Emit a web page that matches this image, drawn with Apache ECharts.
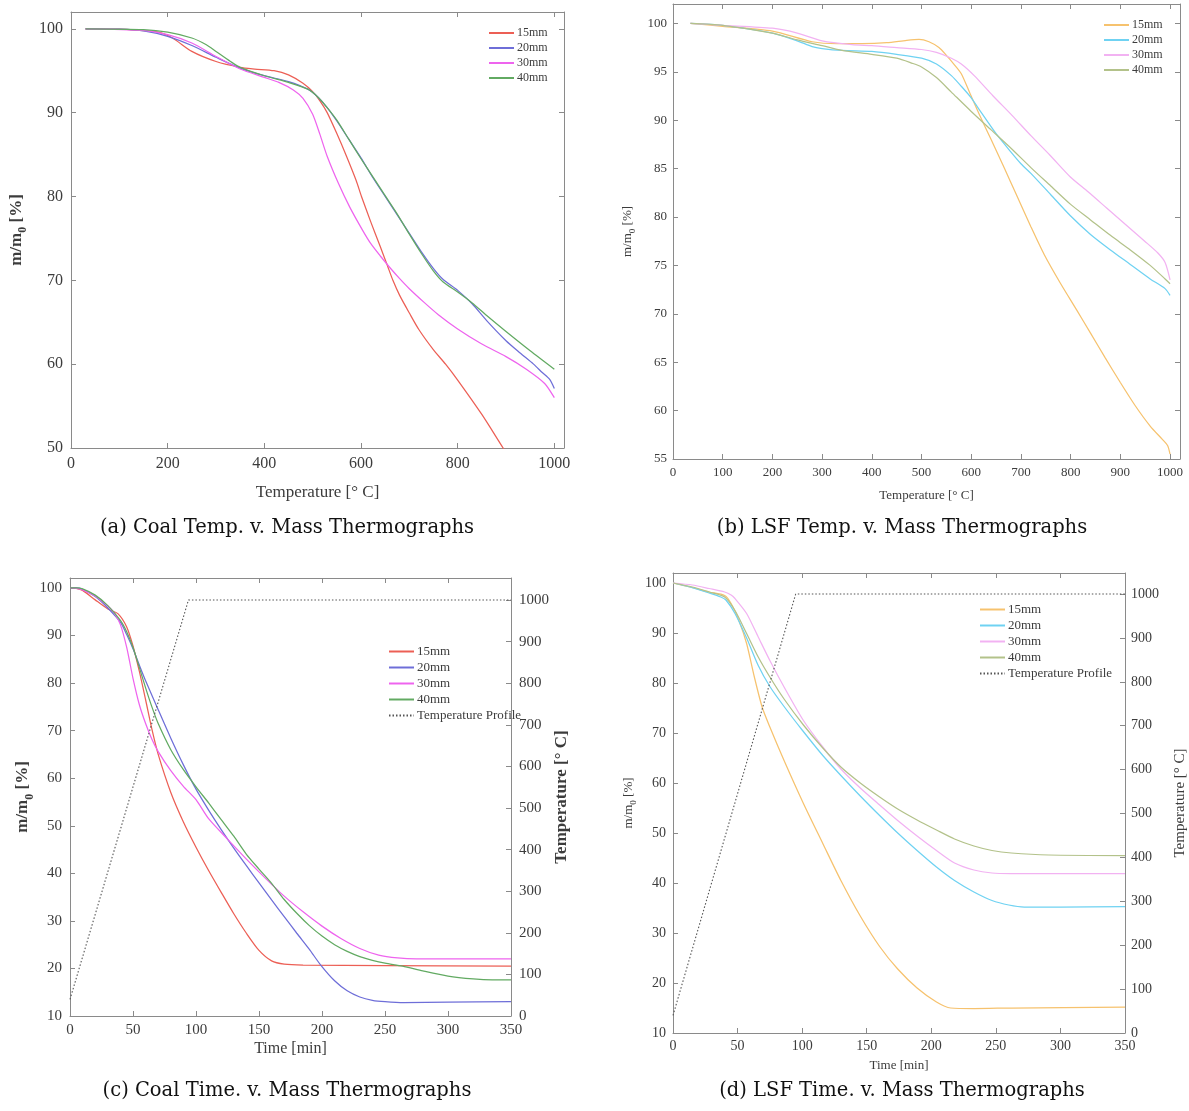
<!DOCTYPE html>
<html><head><meta charset="utf-8">
<script src="https://cdn.jsdelivr.net/npm/echarts@6/dist/echarts.min.js"></script>
<style>html,body{margin:0;padding:0;background:#fff}#c{width:1189px;height:1111px}</style>
</head><body><div id="c"></div>
<script>
// ---------- (a) Coal: Temperature vs mass ----------
const aT15 = [30,100,180,210,250,300,350,380,420,450,480,500,515,530,550,570,590,601,620,640,655,666,680,700,720,750,775,800,850,894,900];
const aM15 = [100,99.95,99.6,98.9,97.3,96.1,95.4,95.2,95.0,94.5,93.5,92.5,91.4,90,87.5,84.8,81.9,80,77,74,71.7,70,68.2,66.1,64.1,61.7,60,58.1,54.0,50,49.5];
const aT20 = [30,100,150,200,250,300,350,400,450,490,510,530,550,575,600,625,650,675,700,725,750,770,800,830,860,900,930,957,975,990,1000];
const aM20 = [100,99.95,99.75,99.1,98.0,96.6,95.3,94.4,93.7,92.8,91.9,90.6,89.0,86.8,84.6,82.2,80.0,77.8,75.6,73.4,71.4,70.1,68.8,67.2,65.2,62.8,61.3,60.0,59.0,58.2,57.1];
const aT30 = [30,150,200,250,300,350,400,430,460,480,500,515,530,553,577,604,620,640,660,680,700,730,760,800,850,900,942,980,1000];
const aM30 = [100,99.8,99.3,98.3,96.7,95.2,94.2,93.6,92.7,91.7,89.8,87.4,84.8,81.6,78.7,75.9,74.4,72.9,71.5,70.2,69.0,67.4,65.9,64.2,62.4,60.9,59.4,57.7,56.0];
const aT40 = [30,150,200,250,280,300,330,350,400,450,490,510,530,550,575,600,625,650,675,700,725,750,770,800,830,860,900,950,1000];
const aM40 = [100,99.9,99.6,98.9,98.1,97.3,96.1,95.4,94.4,93.6,92.8,91.9,90.6,89.1,86.8,84.5,82.3,80.1,77.9,75.5,73.2,71.1,69.8,68.6,67.3,65.8,63.9,61.6,59.4];

// ---------- (b) LSF: Temperature vs mass ----------
const bT15 = [35,100,200,280,330,380,430,470,495,515,535,550,565,580,598,617,640,667,690,720,747,780,812,840,869,900,930,960,985,995,1000];
const bM15 = [100,99.7,99.2,98.1,97.9,97.9,98.0,98.25,98.35,98.1,97.5,96.7,95.8,94.8,92.7,90.5,88.0,85.0,82.4,79.0,76.1,73.1,70.4,68.0,65.5,62.9,60.5,58.4,57.0,56.4,55.5];
const bT20 = [35,100,200,250,280,300,340,400,450,500,530,560,580,600,620,650,680,700,720,760,800,840,880,920,960,990,1000];
const bM20 = [100,99.8,99.0,98.2,97.6,97.4,97.2,97.1,96.8,96.4,95.8,94.6,93.5,92.3,90.8,88.6,86.7,85.5,84.5,82.3,80.1,78.2,76.6,75.1,73.6,72.6,71.9];
const bT30 = [35,100,200,250,300,360,400,450,500,530,560,580,606,644,682,720,758,800,835,873,911,949,975,990,1000];
const bM30 = [100,99.8,99.5,99.0,98.2,97.8,97.7,97.5,97.3,97.0,96.4,95.8,94.6,92.5,90.5,88.4,86.4,84.1,82.6,80.9,79.2,77.5,76.3,75.3,73.5];
const bT40 = [35,100,200,250,300,340,400,450,480,500,530,560,600,640,680,720,760,800,840,880,920,960,990,1000];
const bM40 = [100,99.8,99.0,98.3,97.7,97.2,96.8,96.4,95.9,95.5,94.4,92.9,90.9,89.0,87.1,85.1,83.2,81.3,79.7,78.1,76.6,75.0,73.6,73.1];

// ---------- (c) Coal: Time vs mass ----------
const cT15 = [0,5,10,20,30,38,45,50,55,60,65,70,80,90,100,110,120,130,140,150,160,170,185,250,350];
const cM15 = [100,99.9,99.5,97.5,95.6,94.6,91.8,87.8,82.5,76.5,70.3,65.0,57.0,50.8,45.5,40.6,36.0,31.5,27.4,23.8,21.6,20.9,20.7,20.6,20.5];
const cT20 = [0,5,10,20,30,40,45,50,55,60,70,80,90,100,110,120,130,140,150,160,170,180,190,199,210,220,230,240,250,265,300,350];
const cM20 = [100,100,99.7,98.2,95.8,92.8,90.2,87.2,83.8,80.5,74.4,68.4,62.8,57.7,53.3,49.2,45.3,41.6,38.0,34.4,30.9,27.4,24.0,20.7,17.4,15.3,14.0,13.3,13.0,12.8,12.9,13.0];
const cT30 = [0,5,10,20,30,35,40,45,50,55,60,65,70,80,90,100,110,125,140,155,170,185,200,215,230,245,260,275,290,350];
const cM30 = [100,99.9,99.6,98.3,96.2,94.8,92.3,87.5,81.0,75.5,71.5,68.2,65.6,61.6,58.3,55.5,51.5,47.2,43.0,39.0,35.2,31.9,28.9,26.3,24.2,22.8,22.2,22.0,22.0,22.0];
const cT40 = [0,5,10,20,30,40,45,50,55,60,65,70,80,90,100,110,120,130,140,150,160,170,180,190,200,210,220,230,240,250,264,280,300,320,335,350];
const cM40 = [100,100,99.8,98.5,96.3,93.2,90.8,87.5,83.3,79.0,75.0,71.5,66.0,61.8,58.2,54.8,51.3,47.8,44.0,40.9,37.9,34.5,31.6,29.0,26.8,25.0,23.6,22.5,21.7,21.1,20.5,19.5,18.4,17.8,17.6,17.6];
const cTimeProfile = [0,94,350];
const cTempProfile = [40,1000,1000];

// ---------- (d) LSF: Time vs mass ----------
const dT15 = [0,13,28,40,45,51,57,63,69,75,86,101,116,130,145,160,174,189,204,215,233,262,350];
const dM15 = [100,99.2,98.2,97.5,95.9,92.5,87.9,81.2,75.2,71.2,64.5,55.9,47.9,40.5,33.4,27.3,22.8,19.0,16.2,15.0,14.9,15.0,15.2];
const dT20 = [0,13,28,37,41,48,57,66,75,86,100,116,130,145,160,174,189,204,218,233,247,260,272,300,350];
const dM20 = [100,99.2,98.0,97.2,96.6,93.9,89.0,83.5,79.3,75.3,70.6,65.5,61.5,57.4,53.5,50.0,46.5,43.2,40.5,38.2,36.5,35.6,35.2,35.2,35.3];
const dT30 = [0,15,28,40,45,48,57,66,75,86,101,116,130,145,160,174,189,204,218,233,247,262,350];
const dM30 = [100,99.6,98.9,98.2,97.6,96.9,93.9,89.2,84.5,79.2,72.5,67.2,62.8,59.0,55.6,52.5,49.4,46.5,44.0,42.6,42.0,41.9,41.9];
const dT40 = [0,15,28,40,48,57,66,75,86,101,116,130,145,160,174,189,204,218,233,247,262,291,350];
const dM40 = [100,99.2,98.2,97.2,94.5,89.9,85.2,81.2,76.8,71.6,67.0,63.2,60.0,57.2,54.8,52.6,50.6,48.8,47.4,46.5,46.0,45.6,45.5];
const dTimeProfile = [0,95,350];
const dTempProfile = [40,1000,1000];

// ---------- ticks / labels ----------
const aXTicks = [0,200,400,600,800,1000];
const aYTicks = [50,60,70,80,90,100];
const bXTicks = [0,100,200,300,400,500,600,700,800,900,1000];
const bYTicks = [55,60,65,70,75,80,85,90,95,100];
const tXTicks = [0,50,100,150,200,250,300,350];
const tYTicks = [10,20,30,40,50,60,70,80,90,100];
const tempTicks = [0,100,200,300,400,500,600,700,800,900,1000];
const legendNames = ['15mm','20mm','30mm','40mm','Temperature Profile'];
const captions = ['(a) Coal Temp. v. Mass Thermographs','(b) LSF Temp. v. Mass Thermographs','(c) Coal Time. v. Mass Thermographs','(d) LSF Time. v. Mass Thermographs'];

const coalColors = ['#ec5f55','#6e6ed8','#ee64ee','#62aa62'];
const lsfColors = ['#f6c26e','#6fd2f2','#f2b2f2','#b3c28a'];

const FONT = "'Liberation Serif','DejaVu Serif',serif";
const CAPFONT = "'DejaVu Serif','Liberation Serif',serif";
const AX = '#8a8a8a';
const TXT = '#3c3c3c';
const plain = v => String(v);

function xAx(grid, min, max, ticks, fs, margin, name, nameFs, nameGap, pos) {
  const top = pos === 'top';
  return {
    type: 'value', gridIndex: grid, min, max, position: pos || 'bottom',
    axisLine: {show: true, onZero: false, lineStyle: {color: AX, width: 1}},
    axisTick: {show: true, inside: true, length: 5, customValues: ticks, lineStyle: {color: AX}},
    axisLabel: {show: !top, customValues: ticks, formatter: plain, color: TXT, fontFamily: FONT, fontSize: fs, margin},
    splitLine: {show: false},
    name: top ? '' : name, nameLocation: 'middle', nameGap,
    nameTextStyle: {fontFamily: FONT, fontSize: nameFs, color: TXT}
  };
}
function yAx(grid, min, max, ticks, fs, margin, pos, showLabel, name, nameFs, nameGap, bold) {
  const f = nameFs || 12;
  const w = bold ? 'bold' : 'normal';
  const L = Math.round(f * 1.22);
  return {
    type: 'value', gridIndex: grid, min, max, position: pos,
    axisLine: {show: true, onZero: false, lineStyle: {color: AX, width: 1}},
    axisTick: {show: true, inside: true, length: 5, customValues: ticks, lineStyle: {color: AX}},
    axisLabel: {show: showLabel, customValues: ticks, formatter: plain, color: TXT, fontFamily: FONT, fontSize: fs, margin},
    splitLine: {show: false},
    name: name || '', nameLocation: 'middle', nameGap: nameGap || 0, nameRotate: 90,
    nameTextStyle: {fontFamily: FONT, fontSize: f, color: TXT, fontWeight: w,
      rich: {
        n: {fontFamily: FONT, fontSize: f, color: TXT, fontWeight: w, lineHeight: L, verticalAlign: 'top'},
        s: {fontFamily: FONT, fontSize: Math.round(f * 0.68), color: TXT, fontWeight: w, lineHeight: L, verticalAlign: 'bottom'}
      }}
  };
}
const MNAME = '{n|m/m}{s|0}{n| [%]}';

function ser(id, xs, ys, color, xi, yi, dotted) {
  return {
    type: 'line', id, name: id, xAxisIndex: xi, yAxisIndex: yi,
    data: xs.map((x, i) => [x, ys[i]]),
    symbol: 'none', showSymbol: false, smooth: dotted ? false : 0.25,
    lineStyle: {color, width: dotted ? 1.1 : 1.25, type: dotted ? [1.5, 2] : 'solid'},
    itemStyle: {color}, clip: true, silent: true
  };
}
const labelOf = {};
['a','b','c','d'].forEach(p => {
  ['15','20','30','40'].forEach((s, i) => { labelOf[p + s] = legendNames[i]; });
  labelOf[p + 'T'] = legendNames[4];
});

function legend(ids, left, top, fs) {
  return {
    data: ids, left, top, orient: 'vertical', padding: 0,
    itemWidth: 25, itemHeight: 12, itemGap: 3, selectedMode: false,
    itemStyle: {opacity: 0},
    formatter: n => labelOf[n],
    textStyle: {fontFamily: FONT, fontSize: fs, color: TXT, padding: [0, 0, 0, -2]}
  };
}

function caption(i, x, y) {
  return {type: 'text', x, y, silent: true,
    style: {text: captions[i], align: 'center', verticalAlign: 'middle', font: "19.5px " + CAPFONT, fill: '#111'}};
}

const option = {
  animation: false,
  backgroundColor: '#fff',
  grid: [
    {left: 71, top: 12, width: 493, height: 436},
    {left: 673, top: 4, width: 507, height: 455},
    {left: 70, top: 578, width: 441, height: 438},
    {left: 673, top: 573, width: 453, height: 460}
  ],
  xAxis: [
    xAx(0, 0, 1020, aXTicks, 16, 8, 'Temperature [° C]', 17, 36),
    xAx(0, 0, 1020, aXTicks, 16, 8, '', 17, 0, 'top'),
    xAx(1, 0, 1020, bXTicks, 13, 7, 'Temperature [° C]', 13, 30),
    xAx(1, 0, 1020, bXTicks, 13, 7, '', 13, 0, 'top'),
    xAx(2, 0, 350, tXTicks, 15, 7, 'Time [min]', 16, 25),
    xAx(2, 0, 350, tXTicks, 15, 7, '', 16, 0, 'top'),
    xAx(3, 0, 350, tXTicks, 14, 6, 'Time [min]', 13, 26),
    xAx(3, 0, 350, tXTicks, 14, 6, '', 13, 0, 'top')
  ],
  yAxis: [
    yAx(0, 50, 102, aYTicks, 16, 8, 'left', true, MNAME, 17, 42, true),
    yAx(0, 50, 102, aYTicks, 16, 8, 'right', false),
    yAx(1, 55, 102, bYTicks, 13, 6, 'left', true, MNAME, 13, 36, false),
    yAx(1, 55, 102, bYTicks, 13, 6, 'right', false),
    yAx(2, 10, 102.1, tYTicks, 15, 8, 'left', true, MNAME, 17, 31, true),
    yAx(2, 0, 1053, tempTicks, 15, 8, 'right', true, 'Temperature [° C]', 17, 38, true),
    yAx(3, 10, 102, tYTicks, 14, 7, 'left', true, MNAME, 13, 35, false),
    yAx(3, 0, 1048, tempTicks, 14, 6, 'right', true, 'Temperature [° C]', 15, 48, false)
  ],
  legend: [
    legend(['a15','a20','a30','a40'], 488, 27, 12),
    legend(['b15','b20','b30','b40'], 1103, 19, 12),
    legend(['c15','c20','c30','c40','cT'], 388, 645, 13),
    legend(['d15','d20','d30','d40','dT'], 979, 603, 13)
  ],
  series: [
    ser('a15', aT15, aM15, coalColors[0], 0, 0),
    ser('a20', aT20, aM20, coalColors[1], 0, 0),
    ser('a30', aT30, aM30, coalColors[2], 0, 0),
    ser('a40', aT40, aM40, coalColors[3], 0, 0),
    ser('b15', bT15, bM15, lsfColors[0], 2, 2),
    ser('b20', bT20, bM20, lsfColors[1], 2, 2),
    ser('b30', bT30, bM30, lsfColors[2], 2, 2),
    ser('b40', bT40, bM40, lsfColors[3], 2, 2),
    ser('c15', cT15, cM15, coalColors[0], 4, 4),
    ser('c20', cT20, cM20, coalColors[1], 4, 4),
    ser('c30', cT30, cM30, coalColors[2], 4, 4),
    ser('c40', cT40, cM40, coalColors[3], 4, 4),
    ser('cT', cTimeProfile, cTempProfile, '#555555', 4, 5, true),
    ser('d15', dT15, dM15, lsfColors[0], 6, 6),
    ser('d20', dT20, dM20, lsfColors[1], 6, 6),
    ser('d30', dT30, dM30, lsfColors[2], 6, 6),
    ser('d40', dT40, dM40, lsfColors[3], 6, 6),
    ser('dT', dTimeProfile, dTempProfile, '#555555', 6, 7, true)
  ],
  graphic: [caption(0, 287, 528), caption(1, 902, 528), caption(2, 287, 1091), caption(3, 902, 1091)]
};
const chart = echarts.init(document.getElementById('c'), null, {renderer: 'canvas'});
chart.setOption(option);
</script>
</body></html>
